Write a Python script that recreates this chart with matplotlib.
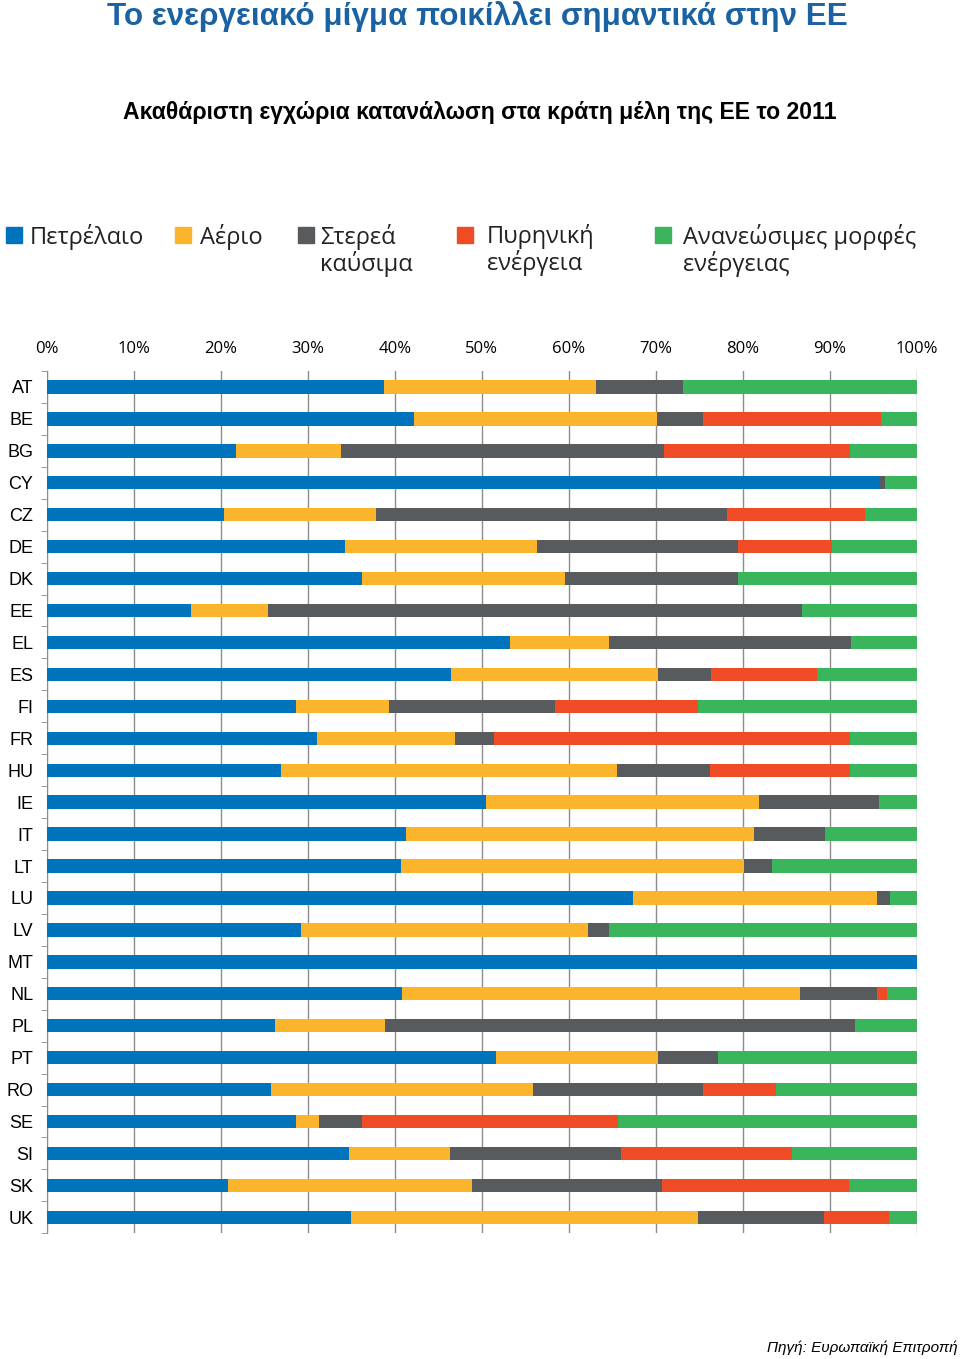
import numpy as np
import matplotlib
matplotlib.use("Agg")
import matplotlib.pyplot as plt
from matplotlib.patches import Rectangle

# data: share (%) of gross inland consumption, 2011
countries = ['AT', 'BE', 'BG', 'CY', 'CZ', 'DE', 'DK', 'EE', 'EL', 'ES', 'FI', 'FR', 'HU',
             'IE', 'IT', 'LT', 'LU', 'LV', 'MT', 'NL', 'PL', 'PT', 'RO', 'SE', 'SI', 'SK', 'UK']
oil = [38.7, 42.2, 21.7, 95.7, 20.3, 34.3, 36.2, 16.6, 53.2, 46.4, 28.6, 31.0, 26.9,
       50.5, 41.3, 40.7, 67.4, 29.2, 100.0, 40.8, 26.2, 51.6, 25.7, 28.6, 34.7, 20.8, 34.9]
gas = [24.4, 27.9, 12.1, 0.0, 17.5, 22.0, 23.3, 8.8, 11.4, 23.9, 10.7, 15.9, 38.6,
       31.3, 40.0, 39.4, 28.0, 33.0, 0.0, 45.8, 12.7, 18.7, 30.2, 2.7, 11.6, 28.1, 39.9]
solid = [10.0, 5.3, 37.1, 0.6, 40.4, 23.1, 20.0, 61.4, 27.8, 6.0, 19.1, 4.5, 10.7,
         13.9, 8.2, 3.2, 1.5, 2.4, 0.0, 8.8, 54.0, 6.9, 19.5, 4.9, 19.7, 21.8, 14.5]
nuclear = [0.0, 20.5, 21.4, 0.0, 15.8, 10.8, 0.0, 0.0, 0.0, 12.2, 16.4, 40.9, 16.1,
           0.0, 0.0, 0.0, 0.0, 0.0, 0.0, 1.2, 0.0, 0.0, 8.4, 29.4, 19.6, 21.5, 7.5]
renew = [26.9, 4.1, 7.7, 3.7, 6.0, 9.8, 20.5, 13.2, 7.6, 11.5, 25.2, 7.7, 7.7,
         4.3, 10.5, 16.7, 3.1, 35.4, 0.0, 3.4, 7.1, 22.8, 16.2, 34.4, 14.4, 7.8, 3.2]

series_names = ['Πετρέλαιο', 'Αέριο', 'Στερεά\nκαύσιμα', 'Πυρηνική\nενέργεια',
                'Ανανεώσιμες μορφές\nενέργειας']
colors = ['#0073bd', '#fbb42c', '#575b5e', '#ef4c26', '#3bb55c']

arial = ['Liberation Sans', 'DejaVu Sans']
calib = ['Open Sans', 'DejaVu Sans']

fig = plt.figure(figsize=(9.6, 13.59), dpi=100)
ax = fig.add_axes([0.049, 0.0925, 0.906, 0.6345])

y = np.arange(len(countries))
left = np.zeros(len(countries))
for vals, c in zip([oil, gas, solid, nuclear, renew], colors):
    v = np.array(vals)
    ax.barh(y, v, left=left, height=0.42, color=c, zorder=3)
    left += v

ax.set_xlim(0, 100)
ax.set_ylim(len(countries) - 0.5, -0.5)
ax.set_xticks(np.arange(0, 101, 10))
ax.set_xticklabels([f'{v}%' for v in range(0, 101, 10)], family=calib, fontsize=12)
ax.xaxis.tick_top()
ax.tick_params(axis='x', length=0, pad=10)
ax.grid(axis='x', color='#8c8c8c', linewidth=1, zorder=0)

ax.set_yticks(y)
ax.set_yticklabels(countries, family=arial, fontsize=13)
ax.set_yticks(np.arange(-0.5, len(countries), 1), minor=True)
ax.tick_params(axis='y', which='major', length=0, pad=10)
ax.tick_params(axis='y', which='minor', length=4, color='#8c8c8c', direction='out')

for s in ['top', 'right', 'bottom']:
    ax.spines[s].set_visible(False)
ax.spines['left'].set_color('#8c8c8c')

# titles
fig.text(0.497, 0.9875, 'Το ενεργειακό μίγμα ποικίλλει σημαντικά στην ΕΕ',
         ha='center', va='center', family=arial, fontweight='bold',
         fontsize=22.6, color='#1b62a3')
fig.text(0.500, 0.917, 'Ακαθάριστη εγχώρια κατανάλωση στα κράτη μέλη της ΕΕ το 2011',
         ha='center', va='center', family=arial, fontweight='bold',
         fontsize=16.6, color='black')

# legend
leg_sq = [6, 175, 298, 457, 655]
leg_tx = [30, 200, 320, 487, 683]
for name, c, sx, tx in zip(series_names, colors, leg_sq, leg_tx):
    fig.patches.append(Rectangle((sx / 960, 1 - 243 / 1359), 16 / 960, 16 / 1359,
                                 transform=fig.transFigure, color=c))
    fig.text(tx / 960, 1 - 224 / 1359, name, ha='left', va='top', family=calib,
             fontsize=17, color='#222222', linespacing=1.05)

fig.text(0.998, 1 - 1348 / 1359, 'Πηγή: Ευρωπαϊκή Επιτροπή', ha='right', va='center',
         family=arial, style='italic', fontsize=11)

fig.savefig('out.png', dpi=100)
